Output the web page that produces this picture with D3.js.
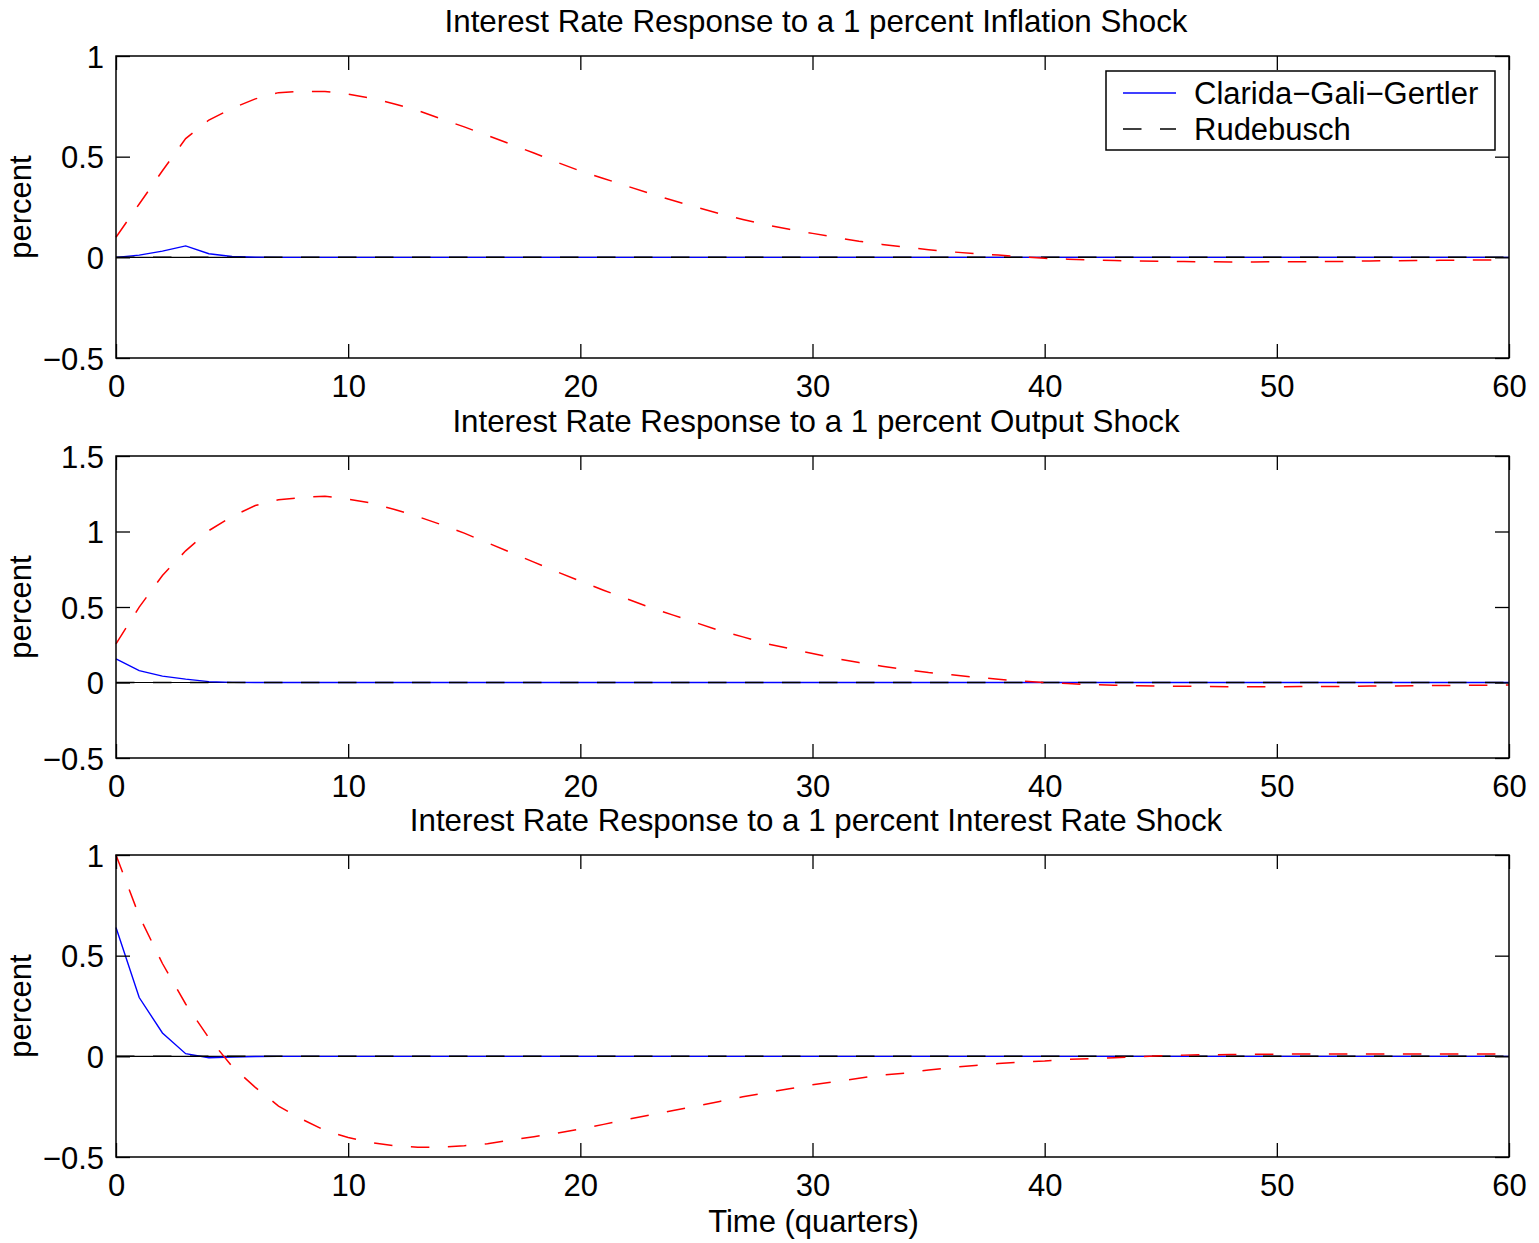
<!DOCTYPE html>
<html>
<head>
<meta charset="utf-8">
<script src="https://cdn.jsdelivr.net/npm/d3@7"></script>
<style>
  html, body { margin: 0; padding: 0; background: #fff; }
  svg { display: block; }
  text { font-family: "Liberation Sans", Arial, Helvetica, sans-serif; fill: #000; }
</style>
</head>
<body>
<svg id="fig" width="1539" height="1243"></svg>
<script>
// Impulse responses of the policy rate, quarters 0..60
const quarters = d3.range(0, 61);

// Panel 1: inflation shock
const cggInflation = [0, 0.011, 0.031, 0.057, 0.018, 0.004, 0.001,
  0, 0, 0, 0, 0, 0, 0, 0, 0, 0, 0, 0, 0, 0, 0, 0, 0, 0, 0, 0, 0, 0, 0, 0,
  0, 0, 0, 0, 0, 0, 0, 0, 0, 0, 0, 0, 0, 0, 0, 0, 0, 0, 0, 0, 0, 0, 0, 0,
  0, 0, 0, 0, 0, 0];
const rudInflation = [0.10, 0.265, 0.43, 0.59, 0.682, 0.74, 0.787, 0.818, 0.824, 0.824,
  0.811, 0.79, 0.762, 0.729, 0.688, 0.648, 0.605, 0.562, 0.518, 0.472,
  0.429, 0.392, 0.354, 0.317, 0.282, 0.249, 0.217, 0.188, 0.161, 0.139,
  0.119, 0.099, 0.080, 0.064, 0.050, 0.038, 0.027, 0.019, 0.011, 0.003,
  -0.005, -0.009, -0.013, -0.016, -0.018, -0.020, -0.021, -0.022, -0.023, -0.023,
  -0.022, -0.022, -0.021, -0.020, -0.018, -0.017, -0.016, -0.015, -0.014, -0.013,
  -0.012];

// Panel 2: output shock
const cggOutput = [0.157, 0.079, 0.042, 0.022, 0.006, 0.001,
  0, 0, 0, 0, 0, 0, 0, 0, 0, 0, 0, 0, 0, 0, 0, 0, 0, 0, 0, 0, 0, 0, 0, 0, 0,
  0, 0, 0, 0, 0, 0, 0, 0, 0, 0, 0, 0, 0, 0, 0, 0, 0, 0, 0, 0, 0, 0, 0, 0,
  0, 0, 0, 0, 0, 0];
const rudOutput = [0.256, 0.499, 0.709, 0.872, 1.006, 1.10, 1.172, 1.21, 1.225, 1.234,
  1.214, 1.188, 1.146, 1.099, 1.046, 0.989, 0.925, 0.861, 0.797, 0.733,
  0.671, 0.611, 0.554, 0.497, 0.446, 0.395, 0.344, 0.302, 0.258, 0.225,
  0.192, 0.159, 0.132, 0.108, 0.086, 0.066, 0.051, 0.035, 0.022, 0.009,
  -0.001, -0.007, -0.014, -0.018, -0.021, -0.023, -0.025, -0.027, -0.028, -0.028,
  -0.028, -0.027, -0.026, -0.026, -0.024, -0.023, -0.021, -0.020, -0.019, -0.018,
  -0.017];

// Panel 3: interest rate shock
const cggRate = [0.640, 0.292, 0.116, 0.013, -0.007, -0.003, -0.001,
  0, 0, 0, 0, 0, 0, 0, 0, 0, 0, 0, 0, 0, 0, 0, 0, 0, 0, 0, 0, 0, 0, 0, 0,
  0, 0, 0, 0, 0, 0, 0, 0, 0, 0, 0, 0, 0, 0, 0, 0, 0, 0, 0, 0, 0, 0, 0, 0,
  0, 0, 0, 0, 0, 0];
const rudRate = [1.0, 0.697, 0.461, 0.26, 0.091, -0.050, -0.154, -0.247, -0.312, -0.368,
  -0.403, -0.428, -0.444, -0.451, -0.451, -0.444, -0.434, -0.416, -0.399, -0.381,
  -0.361, -0.338, -0.313, -0.292, -0.269, -0.247, -0.224, -0.201, -0.181, -0.161,
  -0.141, -0.126, -0.109, -0.093, -0.083, -0.068, -0.055, -0.045, -0.036, -0.028,
  -0.023, -0.015, -0.012, -0.007, -0.002, 0.003, 0.006, 0.008, 0.009, 0.010,
  0.011, 0.012, 0.012, 0.012, 0.012, 0.012, 0.012, 0.012, 0.011, 0.011,
  0.011];

const xTicks = [0, 10, 20, 30, 40, 50, 60];
const yTicksA = [-0.5, 0, 0.5, 1];
const yTicksB = [-0.5, 0, 0.5, 1, 1.5];

const titles = [
  "Interest Rate Response to a 1 percent Inflation Shock",
  "Interest Rate Response to a 1 percent Output Shock",
  "Interest Rate Response to a 1 percent Interest Rate Shock"
];
const seriesNames = ["Clarida\u2212Gali\u2212Gertler", "Rudebusch"];
const yLabel = "percent";
const xLabel = "Time (quarters)";

const panels = [
  { title: titles[0], cgg: cggInflation, rud: rudInflation, domain: [-0.5, 1], ticks: yTicksA, top: 56, legend: true },
  { title: titles[1], cgg: cggOutput, rud: rudOutput, domain: [-0.5, 1.5], ticks: yTicksB, top: 456, legend: false },
  { title: titles[2], cgg: cggRate, rud: rudRate, domain: [-0.5, 1], ticks: yTicksA, top: 855, legend: false }
];

const left = 116, right = 1509, plotH = 302;
const fontSize = 31;
const titleSize = 31.3;
const tickLen = 14;
const dash = "18.5,18.5";

const svg = d3.select("#fig");
const fmt = d => d3.format("~g")(d);

const x = d3.scaleLinear().domain([0, 60]).range([left, right]);

panels.forEach(p => {
  const top = p.top, bottom = top + plotH;
  const y = d3.scaleLinear().domain(p.domain).range([bottom, top]);
  const g = svg.append("g");

  const line = d3.line().x((d, i) => x(quarters[i])).y(d => y(d));
  const zeros = quarters.map(() => 0);

  // solid zero reference underneath
  g.append("path").datum(zeros)
    .attr("d", line).attr("fill", "none")
    .attr("stroke", "#000").attr("stroke-width", 1.2);

  // blue response
  g.append("path").datum(p.cgg)
    .attr("d", line).attr("fill", "none")
    .attr("stroke", "#0000ff").attr("stroke-width", 1.4);

  // zero reference, black dashed
  g.append("path").datum(zeros)
    .attr("d", line).attr("fill", "none")
    .attr("stroke", "#000").attr("stroke-width", 1.5)
    .attr("stroke-dasharray", dash);

  // red dashed response
  g.append("path").datum(p.rud)
    .attr("d", line).attr("fill", "none")
    .attr("stroke", "#ff0000").attr("stroke-width", 1.5)
    .attr("stroke-dasharray", dash);

  // axes with inward ticks on all four sides
  const axB = g.append("g").attr("transform", `translate(0,${bottom})`)
    .call(d3.axisBottom(x).tickValues(xTicks).tickFormat(fmt)
      .tickSize(-tickLen).tickSizeOuter(0).tickPadding(17));
  const axT = g.append("g").attr("transform", `translate(0,${top})`)
    .call(d3.axisTop(x).tickValues(xTicks).tickFormat("")
      .tickSize(-tickLen).tickSizeOuter(0));
  const axL = g.append("g").attr("transform", `translate(${left},0)`)
    .call(d3.axisLeft(y).tickValues(p.ticks).tickFormat(fmt)
      .tickSize(-tickLen).tickSizeOuter(0).tickPadding(12));
  const axR = g.append("g").attr("transform", `translate(${right},0)`)
    .call(d3.axisRight(y).tickValues(p.ticks).tickFormat("")
      .tickSize(-tickLen).tickSizeOuter(0));

  [axB, axT, axL, axR].forEach(a => {
    a.select(".domain").remove();
    a.selectAll(".tick line").attr("stroke", "#000").attr("stroke-width", 1.3);
    a.selectAll("text").attr("font-size", fontSize)
      .attr("font-family", "'Liberation Sans', Arial, sans-serif").attr("fill", "#000");
  });
  axL.selectAll("text").attr("dy", "0.36em");

  // axes box
  g.append("rect")
    .attr("x", left).attr("y", top)
    .attr("width", right - left).attr("height", plotH)
    .attr("fill", "none").attr("stroke", "#000").attr("stroke-width", 1.5);

  // title
  g.append("text")
    .attr("x", (left + right) / 2 + 3.5).attr("y", top - 24)
    .attr("text-anchor", "middle").attr("font-size", titleSize)
    .text(p.title);

  // y label
  g.append("text")
    .attr("transform", `translate(31,${(top + bottom) / 2}) rotate(-90)`)
    .attr("text-anchor", "middle").attr("font-size", fontSize)
    .text(yLabel);

  if (p.legend) {
    const lx = 1106, ly = 71, lw = 389, lh = 79;
    const lg = g.append("g");
    lg.append("rect").attr("x", lx).attr("y", ly).attr("width", lw).attr("height", lh)
      .attr("fill", "#fff").attr("stroke", "#000").attr("stroke-width", 1.5);
    const rows = [
      { name: seriesNames[0], color: "#0000ff", dash: null, yy: 93 },
      { name: seriesNames[1], color: "#000", dash: dash, yy: 129 }
    ];
    rows.forEach(r => {
      lg.append("line").attr("x1", 1123).attr("x2", 1176)
        .attr("y1", r.yy).attr("y2", r.yy)
        .attr("stroke", r.color).attr("stroke-width", 1.5)
        .attr("stroke-dasharray", r.dash);
      lg.append("text").attr("x", 1194).attr("y", r.yy + 11)
        .attr("font-size", fontSize).text(r.name);
    });
  }
});

// x label
svg.append("text")
  .attr("x", (left + right) / 2 + 1).attr("y", 1232)
  .attr("text-anchor", "middle").attr("font-size", fontSize)
  .text(xLabel);
</script>
</body>
</html>
